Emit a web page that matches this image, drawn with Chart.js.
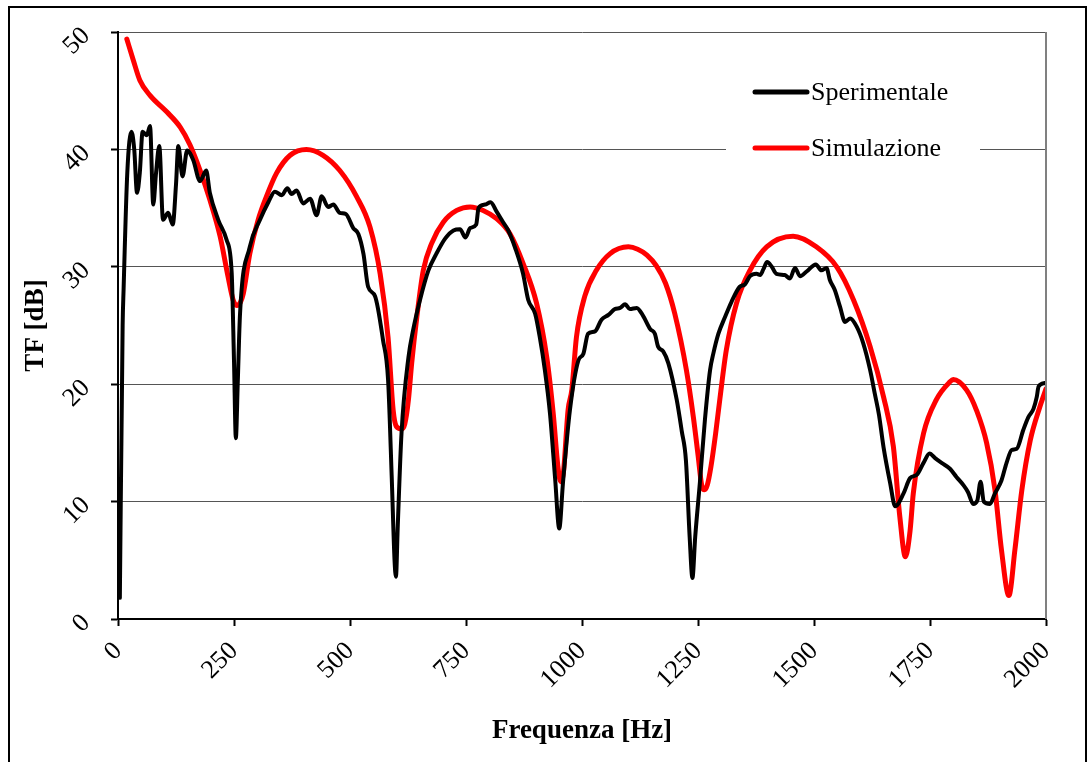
<!DOCTYPE html>
<html>
<head>
<meta charset="utf-8">
<script src="https://cdn.jsdelivr.net/npm/chart.js@4.4.1/dist/chart.umd.min.js"></script>
<style>
  html, body { margin: 0; padding: 0; background: #fff; }
</style>
</head>
<body>
<canvas id="myChart" width="1088" height="762"></canvas>
<script>
// Sperimentale (misura)
var expFreq = [4, 10, 12, 20, 29, 35, 41, 47, 53, 62, 69, 76, 82, 89, 97, 108, 118, 125, 130, 139, 149, 162, 177, 190, 198, 216, 234, 245, 250, 254, 258, 263, 284, 306, 324, 338, 353, 365, 374, 385, 399, 414, 428, 439, 453, 464, 478, 491, 507, 518, 529, 539, 554, 571, 582, 590, 596, 599, 603, 611, 626, 636, 651, 669, 686, 705, 723, 737, 749, 759, 772, 777, 791, 803, 816, 830, 841, 856, 873, 884, 899, 909, 920, 931, 942, 951, 959, 974, 992, 1003, 1013, 1028, 1042, 1057, 1071, 1082, 1093, 1103, 1118, 1132, 1147, 1157, 1164, 1175, 1186, 1204, 1215, 1224, 1232, 1238, 1244, 1254, 1265, 1276, 1283, 1294, 1308, 1322, 1340, 1351, 1362, 1376, 1384, 1391, 1399, 1409, 1419, 1437, 1448, 1459, 1470, 1484, 1504, 1516, 1527, 1534, 1545, 1556, 1567, 1578, 1592, 1606, 1621, 1631, 1640, 1650, 1664, 1675, 1693, 1707, 1722, 1736, 1749, 1761, 1775, 1793, 1807, 1822, 1832, 1843, 1852, 1859, 1866, 1879, 1890, 1904, 1915, 1926, 1937, 1951, 1962, 1973, 1980, 1984, 1998];
var expTF = [1.8, 25, 28, 38, 41.5, 40, 36.3, 38, 41.5, 41.2, 42.0, 35.3, 38, 40.3, 34, 34.6, 33.6, 37, 40.3, 37.7, 39.9, 39.1, 37.3, 38.2, 36.3, 34, 32.3, 29.5, 22, 15.4, 20, 26, 31.7, 34, 35.5, 36.4, 36.1, 36.7, 36.2, 36.5, 35.4, 35.8, 34.4, 36, 35.1, 35.3, 34.6, 34.5, 33.3, 32.8, 31.1, 28.3, 27.5, 23.8, 20.4, 12, 5, 3.6, 8, 15.8, 22.3, 24.6, 27.2, 29.7, 31.1, 32.4, 33.1, 33.2, 32.5, 33.3, 33.6, 35, 35.3, 35.5, 34.7, 33.8, 33.1, 31.6, 29.4, 27.2, 26, 24, 21.2, 17.5, 12, 7.7, 11.6, 17.8, 22, 22.6, 24.3, 24.5, 25.5, 25.9, 26.4, 26.5, 26.8, 26.4, 26.5, 25.8, 24.7, 24.3, 23.2, 22.8, 21.8, 18.7, 16, 13.5, 7, 3.5, 7, 11.6, 17, 21.2, 22.6, 24.3, 25.7, 27, 28.3, 28.5, 29.2, 29.4, 29.3, 29.8, 30.4, 30, 29.4, 29.3, 29, 29.9, 29.2, 29.6, 30.2, 29.7, 29.9, 28.9, 28, 26.6, 25.3, 25.6, 24.9, 23.5, 21.2, 19.2, 17.4, 14.6, 11.6, 9.6, 10.7, 12, 12.3, 13.3, 14.1, 13.7, 13.3, 12.8, 12.1, 11.4, 10.8, 9.8, 10.1, 11.7, 10, 9.8, 10.7, 11.8, 13.3, 14.4, 14.5, 16.1, 17.2, 17.9, 18.9, 19.8, 20.1];

// Simulazione
var simFreq = [19, 33, 47, 69, 105, 134, 155, 177, 198, 220, 237, 248, 256, 264, 270, 284, 302, 320, 342, 371, 406, 442, 478, 514, 543, 565, 582, 593, 600, 611, 618, 626, 633, 644, 658, 676, 701, 730, 759, 787, 816, 845, 873, 902, 924, 938, 948, 954, 960, 970, 978, 988, 1006, 1031, 1060, 1100, 1120, 1140, 1160, 1180, 1200, 1225, 1240, 1250, 1258, 1264, 1270, 1278, 1288, 1297, 1311, 1333, 1362, 1398, 1455, 1505, 1549, 1585, 1621, 1650, 1671, 1685, 1697, 1707, 1714, 1736, 1764, 1793, 1800, 1829, 1850, 1872, 1890, 1904, 1920, 1933, 1948, 1966, 1987, 2000];
var simTF = [49.4, 47.6, 45.9, 44.6, 43.2, 41.9, 40.4, 38.2, 35.7, 32.6, 29.2, 27.2, 26.7, 27.0, 27.7, 31.1, 34, 36, 38, 39.5, 40, 39.5, 38.2, 36, 33.4, 29.4, 24, 17.8, 16.4, 16.2, 16.6, 18.7, 21.8, 25.7, 29.7, 32, 33.8, 34.8, 35.1, 34.8, 34.1, 32.8, 30.3, 26.9, 22.3, 17.5, 13, 11.7, 12.5, 17.8, 19.5, 24, 27.5, 29.7, 31.1, 31.7, 31.5, 31.0, 30.1, 28.6, 26.0, 21.2, 17.2, 14.0, 11.4, 11.0, 11.4, 13.0, 15.8, 18.7, 22.9, 26.9, 29.7, 31.7, 32.6, 31.7, 30, 27.2, 23.2, 18.9, 14.7, 8.7, 5.3, 7.5, 10.7, 15.8, 18.7, 20.2, 20.4, 19.5, 17.8, 15, 11, 5.9, 2, 5.9, 11, 15.2, 18.1, 19.6];

var xTicks = [0, 250, 500, 750, 1000, 1250, 1500, 1750, 2000];
var yTicks = [0, 10, 20, 30, 40, 50];

function toPoints(xs, ys) {
    var pts = [];
    for (var i = 0; i < xs.length; i++) {
        pts.push({ x: xs[i], y: ys[i] });
    }
    return pts;
}

var serif = "'Liberation Serif', 'Times New Roman', serif";

// cornice esterna e bordo destro dell'area del grafico
var framePlugin = {
    id: 'frame',
    beforeDraw: function(chart) {
        var ctx = chart.ctx;
        ctx.save();
        ctx.fillStyle = '#fff';
        ctx.fillRect(0, 0, chart.width, chart.height);
        ctx.strokeStyle = '#000';
        ctx.lineWidth = 2;
        ctx.beginPath();
        ctx.moveTo(9, chart.height + 2);
        ctx.lineTo(9, 7);
        ctx.lineTo(1086, 7);
        ctx.lineTo(1086, chart.height + 2);
        ctx.stroke();
        ctx.restore();
    },
    afterDraw: function(chart) {
        var ctx = chart.ctx;
        var a = chart.chartArea;
        ctx.save();
        ctx.strokeStyle = '#808080';
        ctx.lineWidth = 2;
        ctx.beginPath();
        ctx.moveTo(a.right, a.top);
        ctx.lineTo(a.right, a.bottom);
        ctx.stroke();
        ctx.restore();
    }
};

// legenda dentro l'area del grafico
var legendPlugin = {
    id: 'innerLegend',
    afterDatasetsDraw: function(chart) {
        var ctx = chart.ctx;
        ctx.save();
        ctx.fillStyle = '#fff';
        ctx.fillRect(726, 66, 254, 110);
        var rows = [92, 148];
        chart.data.datasets.forEach(function(ds, i) {
            var y = rows[i];
            ctx.strokeStyle = ds.borderColor;
            ctx.lineWidth = 5;
            ctx.lineCap = 'round';
            ctx.beginPath();
            ctx.moveTo(755, y);
            ctx.lineTo(807, y);
            ctx.stroke();
            ctx.fillStyle = '#000';
            ctx.font = '26px ' + serif;
            ctx.textBaseline = 'middle';
            ctx.textAlign = 'left';
            ctx.fillText(ds.label, 811, y + 1);
        });
        ctx.restore();
    }
};

var myChart = new Chart(document.getElementById('myChart').getContext('2d'), {
    type: 'line',
    data: {
        datasets: [
            {
                label: 'Sperimentale',
                data: toPoints(expFreq, expTF),
                borderColor: '#000000',
                borderWidth: 4,
                pointRadius: 0,
                cubicInterpolationMode: 'monotone',
                borderJoinStyle: 'round',
                borderCapStyle: 'round'
            },
            {
                label: 'Simulazione',
                data: toPoints(simFreq, simTF),
                borderColor: '#ff0000',
                borderWidth: 5,
                pointRadius: 0,
                cubicInterpolationMode: 'monotone',
                borderJoinStyle: 'round',
                borderCapStyle: 'round'
            }
        ]
    },
    options: {
        responsive: false,
        animation: false,
        events: [],
        layout: { padding: { left: 0, top: 32, right: 42, bottom: 0 } },
        plugins: {
            legend: { display: false },
            tooltip: { enabled: false }
        },
        scales: {
            x: {
                type: 'linear',
                min: 0,
                max: 2000,
                afterBuildTicks: function(scale) {
                    scale.ticks = xTicks.map(function(v) { return { value: v }; });
                },
                afterFit: function(scale) {
                    scale.height = 143;
                    scale.paddingLeft = 0;
                    scale.paddingRight = 0;
                },
                grid: {
                    drawOnChartArea: false,
                    drawTicks: true,
                    tickLength: 7,
                    tickColor: '#000',
                    tickWidth: 2
                },
                border: { color: '#000', width: 2 },
                ticks: {
                    minRotation: 45,
                    maxRotation: 45,
                    padding: 10,
                    color: '#000',
                    font: { family: serif, size: 26 },
                    callback: function(v) { return String(v); }
                },
                title: {
                    display: true,
                    text: 'Frequenza [Hz]',
                    color: '#000',
                    font: { family: serif, size: 27, weight: 'bold' },
                    padding: { top: 0, bottom: 15 }
                }
            },
            y: {
                min: 0,
                max: 50,
                afterBuildTicks: function(scale) {
                    scale.ticks = yTicks.map(function(v) { return { value: v }; });
                },
                afterFit: function(scale) {
                    scale.width = 118;
                    scale.paddingTop = 0;
                    scale.paddingBottom = 0;
                },
                grid: {
                    color: '#555',
                    lineWidth: 1,
                    drawTicks: true,
                    tickLength: 7,
                    tickColor: '#000',
                    tickWidth: 2
                },
                border: { color: '#000', width: 2 },
                ticks: {
                    minRotation: 45,
                    maxRotation: 45,
                    padding: 25,
                    color: '#000',
                    font: { family: serif, size: 26 },
                    callback: function(v) { return String(v); }
                },
                title: {
                    display: true,
                    text: 'TF [dB]',
                    color: '#000',
                    font: { family: serif, size: 27, weight: 'bold' },
                    padding: { top: 20, bottom: 0 }
                }
            }
        }
    },
    plugins: [framePlugin, legendPlugin]
});
</script>
</body>
</html>
